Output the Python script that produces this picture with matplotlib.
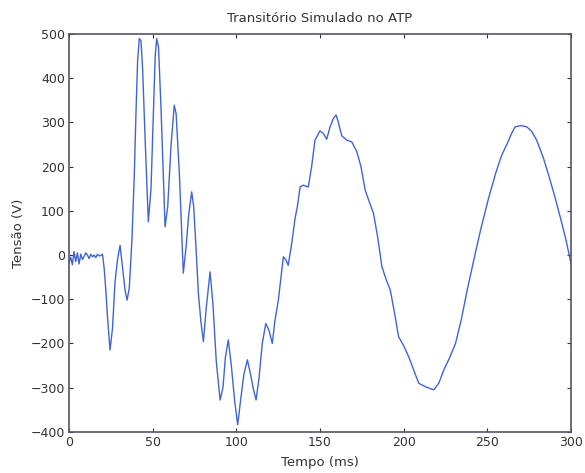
import numpy as np
import matplotlib
matplotlib.use("Agg")
import matplotlib.pyplot as plt

# tempo (ms) e tensao (V)
tempo = [0, 1, 2, 3, 4, 5, 6, 7, 8, 9, 10, 11, 12, 13, 14, 15, 16, 17, 18,
         19, 20, 21, 22, 23, 24.5, 26, 27.5, 29, 30.5, 32, 33.5, 34.7, 36,
         37.6, 39, 40, 41, 42, 43, 44, 45.5, 47.4, 49, 50.5, 51.5, 52.4, 53.5,
         55, 57.4, 59, 61, 62.9, 64, 66, 68.3, 70, 71.5, 73.3, 74.5, 76, 77.3,
         78.8, 80.3, 82, 84.3, 86, 88, 90.3, 92, 93.5, 95.2, 97, 99, 100.8,
         102.5, 104.5, 106.6, 108.5, 110, 111.8, 113.5, 115.5, 117.6, 119.5,
         121.5, 123, 125.1, 127, 128.1, 129.5, 131, 133.1, 135.1, 136.5, 138.1,
         140, 141.5, 143, 145, 147, 150, 152, 154, 156, 158, 159.6, 161, 163,
         166, 169, 172, 174.5, 177, 179.5, 182, 184.5, 187, 189.5, 192, 194.5,
         197, 200, 203, 206, 209, 213, 218, 221, 224, 227.5, 231, 234.5, 238,
         242, 246, 250.5, 255, 258.5, 262, 264.5, 266.6, 270, 273.6, 276.5,
         279.5, 283.5, 287.5, 290.5, 293.5, 297, 300]
tensao = [-18, -5, -22, 8, -15, 5, -20, 2, -10, -3, 5, 0, -8, 2, -4, 0, -6, 2,
          -2, -1, 2, -30, -80, -140, -215, -165, -60, -10, 22, -30, -80, -102,
          -75, 34, 180, 320, 440, 490, 485, 420, 260, 75, 150, 330, 450, 490,
          470, 330, 64, 110, 250, 339, 320, 180, -41, 20, 90, 143, 110, 10,
          -86, -150, -196, -120, -38, -110, -240, -328, -300, -230, -192, -250,
          -330, -384, -330, -270, -237, -270, -300, -328, -280, -200, -155,
          -170, -200, -150, -102, -40, -4, -10, -23, 26, 83, 110, 154, 158,
          156, 154, 200, 260, 281, 275, 262, 290, 309, 317, 300, 270, 260, 256,
          234, 200, 147, 120, 94, 40, -26, -55, -79, -130, -185, -205, -230,
          -260, -290, -298, -305, -290, -260, -232, -200, -145, -79, -10, 57,
          125, 185, 225, 253, 275, 290, 293, 290, 280, 260, 220, 170, 130, 87,
          35, -19]

fig = plt.figure(figsize=(5.85, 4.73), dpi=100)
ax = fig.add_axes([0.118, 0.087, 0.858, 0.841])

ax.plot(tempo, tensao, color="#4065d2", linewidth=1.0)

ax.set_xlim(0, 300)
ax.set_ylim(-400, 500)
ax.set_xticks(np.arange(0, 301, 50))
ax.set_yticks(np.arange(-400, 501, 100))

ax.tick_params(direction="in", length=3, labelsize=9, colors="#333333",
               top=True, right=True, pad=3)
for s in ax.spines.values():
    s.set_color("#555566")
    s.set_linewidth(1.2)

ax.set_title("Transitório Simulado no ATP", fontsize=9.5, color="#333333", pad=9)
ax.set_xlabel("Tempo (ms)", fontsize=9.5, color="#333333", labelpad=5)
ax.set_ylabel("Tensão (V)", fontsize=9.5, color="#333333", labelpad=4)

fig.savefig("out.png", dpi=100)
